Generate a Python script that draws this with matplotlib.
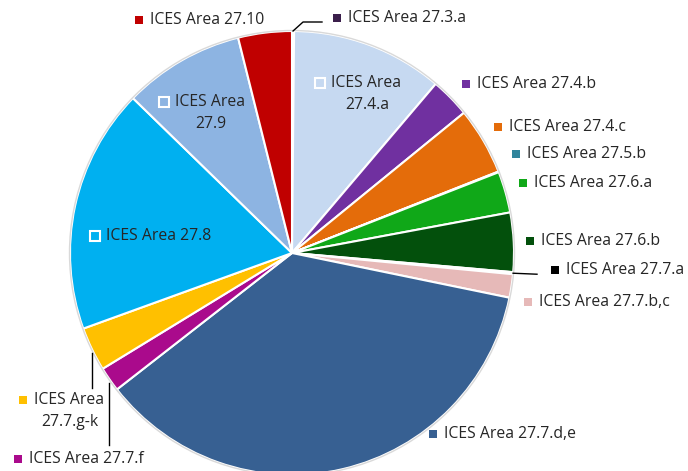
import numpy as np
import matplotlib
matplotlib.use('Agg')
import matplotlib.pyplot as plt

plt.rcParams['font.family'] = ['Open Sans', 'DejaVu Sans']

# slices, clockwise from 12 o'clock
areas = ['ICES Area 27.3.a', 'ICES Area 27.4.a', 'ICES Area 27.4.b', 'ICES Area 27.4.c',
         'ICES Area 27.5.b', 'ICES Area 27.6.a', 'ICES Area 27.6.b', 'ICES Area 27.7.a',
         'ICES Area 27.7.b,c', 'ICES Area 27.7.d,e', 'ICES Area 27.7.f', 'ICES Area 27.7.g-k',
         'ICES Area 27.8', 'ICES Area 27.9', 'ICES Area 27.10']
shares = [0.15, 11.05, 2.9, 4.9, 0.05, 3.0, 4.3, 0.15, 1.7, 36.2, 1.8, 3.2, 17.8, 8.8, 3.9]
colors = ['#3B1F4B', '#C6D9F1', '#7030A0', '#E46C0A', '#31859C', '#10A818', '#03500C', '#000000',
          '#E6B9B8', '#376092', '#AA0A8C', '#FFC000', '#00B0F0', '#8DB4E2', '#C00000']

# label placement (pixels, image coords): marker x, y, inside flag
label_pos = {
    'ICES Area 27.3.a': (333, 18, False),
    'ICES Area 27.4.a': (316, 83, True),
    'ICES Area 27.4.b': (462, 84, False),
    'ICES Area 27.4.c': (494, 127, False),
    'ICES Area 27.5.b': (512, 154, False),
    'ICES Area 27.6.a': (519, 183, False),
    'ICES Area 27.6.b': (526, 241, False),
    'ICES Area 27.7.a': (551, 270, False),
    'ICES Area 27.7.b,c': (524, 302, False),
    'ICES Area 27.7.d,e': (429, 434, False),
    'ICES Area 27.7.f': (14, 459, False),
    'ICES Area 27.7.g-k': (19, 400, False),
    'ICES Area 27.8': (91, 236, True),
    'ICES Area 27.9': (160, 102, True),
    'ICES Area 27.10': (135, 20, False),
}
two_line = ['ICES Area 27.4.a', 'ICES Area 27.9', 'ICES Area 27.7.g-k']

W, H = 688, 471
fig = plt.figure(figsize=(W / 100, H / 100), dpi=100)
ax = fig.add_axes([0, 0, 1, 1])
ax.axis('off')

cx, cy, R = 292, H - 253, 222
wedges, _ = ax.pie(shares, colors=colors, startangle=90, counterclock=False,
                   center=(cx, cy), radius=R,
                   wedgeprops=dict(edgecolor='white', linewidth=1.5))
ax.add_patch(plt.Circle((cx, cy), R + 0.5, fill=False, edgecolor='#D9D9D9', linewidth=1))
ax.set_xlim(0, W)
ax.set_ylim(0, H)
ax.set_aspect('equal')

fs = 11.3
for name, col in zip(areas, colors):
    mx, my, inside = label_pos[name]
    y = H - my
    if inside:
        ax.plot(mx + 4, y, marker='s', markersize=7, markerfacecolor='none',
                markeredgecolor='white', markeredgewidth=1.5)
    else:
        ax.plot(mx + 4, y, marker='s', markersize=6, markerfacecolor=col,
                markeredgewidth=0)
    if name in two_line:
        ax.text(mx + 15, y, 'ICES Area', fontsize=fs, va='center', ha='left', color='#262626')
        ax.text(mx + 15 + 36, y - 22, name.replace('ICES Area ', ''), fontsize=fs,
                va='center', ha='center', color='#262626')
    else:
        ax.text(mx + 15, y, name, fontsize=fs, va='center', ha='left', color='#262626')

# leader lines for the small slices
def edge_point(w):
    a = np.deg2rad((w.theta1 + w.theta2) / 2)
    return cx + R * np.cos(a), cy + R * np.sin(a)

x0, y0 = edge_point(wedges[0])
ax.plot([x0, x0 + 10, 322], [y0, H - 22, H - 22], color='black', lw=1)
x0, y0 = edge_point(wedges[7])
ax.plot([x0, 537], [y0, y0 - 1], color='black', lw=1)
x0, y0 = edge_point(wedges[11])
ax.plot([x0, x0], [y0 - 4, H - 388], color='black', lw=1)
x0, y0 = edge_point(wedges[10])
ax.plot([x0, x0], [y0 - 4, H - 445], color='black', lw=1)

fig.savefig('out.png', dpi=100)
